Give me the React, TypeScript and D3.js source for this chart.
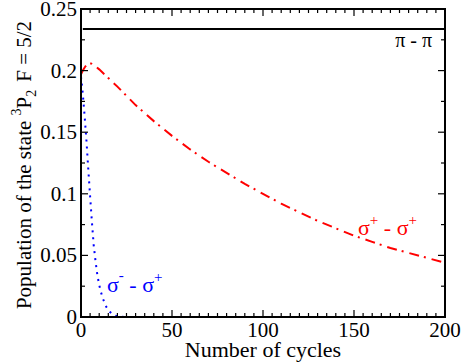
import * as d3 from "d3";
import { useEffect, useRef } from "react";

// cycles / population values
const piX = [1, 200];
const piY = [0.2338, 0.2338];

const sppX = [0, 1, 2, 3, 4, 5, 6, 8, 10, 15, 20, 30, 40, 50, 60, 70, 80, 90, 100, 110, 120, 130, 140, 150, 160, 170, 180, 190, 200];
const sppY = [0.197, 0.2, 0.2025, 0.2045, 0.2055, 0.206, 0.2055, 0.2035, 0.201, 0.194, 0.187, 0.172, 0.159, 0.147, 0.136, 0.126, 0.117, 0.108, 0.1, 0.092, 0.085, 0.078, 0.072, 0.066, 0.061, 0.056, 0.052, 0.048, 0.044];

const smpX = [0, 1, 2, 3, 4, 5, 6, 7, 8, 9, 10, 11, 12, 14, 16, 18, 20, 22, 25];
const smpY = [0.195, 0.181, 0.163, 0.143, 0.12, 0.098, 0.077, 0.058, 0.045, 0.034, 0.026, 0.02, 0.015, 0.008, 0.004, 0.0015, 0.0005, 0.0002, 0];

const xTicks = [0, 50, 100, 150, 200];
const yTicks = [0, 0.05, 0.1, 0.15, 0.2, 0.25];
const yTickLabels = ["0", "0.05", "0.1", "0.15", "0.2", "0.25"];

const FONT = "Liberation Serif";

export default function App() {
  const ref = useRef<SVGSVGElement>(null);
  const W = 463, H = 363;
  const m = { left: 81, right: 18, top: 9, bottom: 46 };
  const x = d3.scaleLinear().domain([0, 200]).range([m.left, W - m.right]);
  const y = d3.scaleLinear().domain([0, 0.25]).range([H - m.bottom, m.top]);

  useEffect(() => {
    if (ref.current) {
      d3.select(ref.current).selectAll("text").style("font-family", "'Liberation Serif', 'Times New Roman', serif");
    }
  });

  const line = (xs: number[], ys: number[]) =>
    d3.line<number>().x((d) => x(d)).y((_, i) => y(ys[i]))(xs) || "";

  const xMinor = d3.range(0, 201, 5).filter((v) => v % 50 !== 0);
  const yMinor = d3.range(0.025, 0.25, 0.05);
  const x0 = x(0), x1 = x(200), y0 = y(0), y1 = y(0.25);
  const maj = 7, min = 4;

  return (
    <div style={{ position: "absolute", left: 0, top: 0 }}>
      <svg ref={ref} width={W} height={H}>
        {/* curves */}
        <path d={line(piX, piY)} fill="none" stroke="#000" strokeWidth={2} />
        <path d={line(sppX, sppY)} fill="none" stroke="#ff0000" strokeWidth={2} strokeDasharray="10,5,2,6" />
        <path d={line(smpX, smpY)} fill="none" stroke="#0000ff" strokeWidth={2} strokeDasharray="2,5" />

        {/* frame ticks */}
        <g stroke="#000" strokeWidth={1.2}>
          {xTicks.map((t) => (
            <g key={"xt" + t}>
              <line x1={x(t)} x2={x(t)} y1={y0} y2={y0 - maj} />
              <line x1={x(t)} x2={x(t)} y1={y1} y2={y1 + maj} />
            </g>
          ))}
          {xMinor.map((t) => (
            <g key={"xm" + t}>
              <line x1={x(t)} x2={x(t)} y1={y0} y2={y0 - min} />
              <line x1={x(t)} x2={x(t)} y1={y1} y2={y1 + min} />
            </g>
          ))}
          {yTicks.map((t) => (
            <g key={"yt" + t}>
              <line x1={x0} x2={x0 + maj} y1={y(t)} y2={y(t)} />
              <line x1={x1} x2={x1 - maj} y1={y(t)} y2={y(t)} />
            </g>
          ))}
          {yMinor.map((t) => (
            <g key={"ym" + t}>
              <line x1={x0} x2={x0 + min} y1={y(t)} y2={y(t)} />
              <line x1={x1} x2={x1 - min} y1={y(t)} y2={y(t)} />
            </g>
          ))}
        </g>
        <rect x={x0} y={y1} width={x1 - x0} height={y0 - y1} fill="none" stroke="#000" strokeWidth={2} />

        {/* tick labels */}
        {xTicks.map((t) => (
          <text key={"xl" + t} x={x(t)} y={y0 + 20} textAnchor="middle" fontSize={21} fontFamily={FONT}>{t}</text>
        ))}
        {yTicks.map((t, i) => (
          <text key={"yl" + t} x={x0 - 4} y={y(t) + 7} textAnchor="end" fontSize={21} fontFamily={FONT}>{yTickLabels[i]}</text>
        ))}

        {/* axis titles */}
        <text x={(x0 + x1) / 2} y={357} textAnchor="middle" fontSize={22} fontFamily={FONT}>Number of cycles</text>
        <text transform="translate(31,165) rotate(-90)" textAnchor="middle" fontSize={21} fontFamily={FONT}>
          Population of the state <tspan fontSize={14} dy={-10}>3</tspan>
          <tspan dy={10}>P</tspan>
          <tspan fontSize={14} dy={5}>2</tspan>
          <tspan dy={-5} dx={8}>F = 5/2</tspan>
        </text>

        {/* curve labels */}
        <text x={432} y={47} textAnchor="end" fontSize={20} fontFamily={FONT}>π - π</text>
        <text x={358} y={235} fontSize={22} fill="#ff0000" fontFamily={FONT}>
          σ<tspan fontSize={15} dy={-10}>+</tspan><tspan dy={10}> - σ</tspan><tspan fontSize={15} dy={-10}>+</tspan>
        </text>
        <text x={107} y={292} fontSize={22} fill="#0000ff" fontFamily={FONT}>
          σ<tspan fontSize={15} dy={-12}>-</tspan><tspan dy={12}> - σ</tspan><tspan fontSize={15} dy={-10}>+</tspan>
        </text>
      </svg>
    </div>
  );
}
